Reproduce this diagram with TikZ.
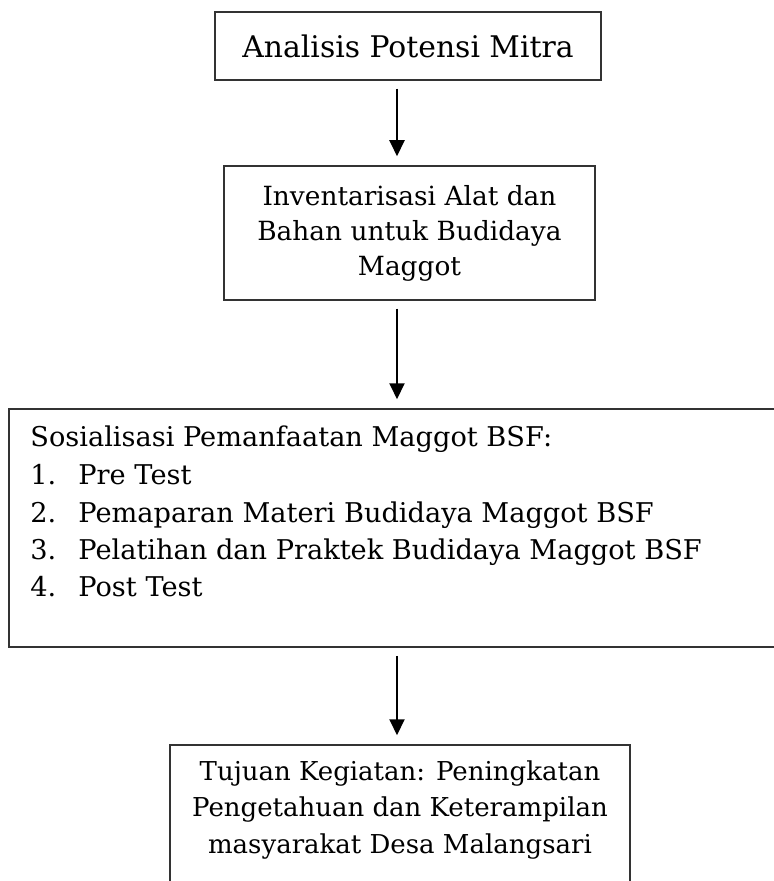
\documentclass[tikz,border=0pt]{standalone}
\usepackage{fontspec}
\setmainfont{DejaVu Serif}
\usetikzlibrary{arrows.meta}
\begin{document}
\begin{tikzpicture}[x=0.5pt,y=-0.5pt,
  frame/.style={draw=black!80, line width=0.75pt, inner sep=0pt},
  boxtext/.style={align=center, font=\fontsize{13.2}{17.5}\selectfont},
  txt/.style={anchor=base west, inner sep=0pt, font=\fontsize{13.6}{17}\selectfont},
  flow/.style={line width=1pt, -{Triangle[length=8pt,width=7.5pt]}, shorten <=4pt, shorten >=4.5pt}]
\useasboundingbox (0,0) rectangle (774,881);
\clip (0,0) rectangle (774,881);
% boxes
\node[frame, boxtext, font=\fontsize{14.9}{18}\selectfont, minimum width=193pt, minimum height=34pt] (b1) at (408,46) {Analisis Potensi Mitra};
\node[frame, boxtext, minimum width=185.5pt, minimum height=67pt] (b2) at (409.5,233) {Inventarisasi Alat dan\\Bahan untuk Budidaya\\Maggot};
\node[frame, minimum width=395.5pt, minimum height=119pt] (b3) at (404.5,528) {};
\node[frame, minimum width=230pt, minimum height=80pt] (b4) at (400,825) {};
% text of box 3
\node[txt] (s0) at (30,446) {Sosialisasi Pemanfaatan Maggot BSF:};
\node[txt] (n1) at (30,484) {1.};
\node[txt] (t1) at (78,484) {Pre Test};
\node[txt] (n2) at (30,522) {2.};
\node[txt] (t2) at (78,522) {Pemaparan Materi Budidaya Maggot BSF};
\node[txt] (n3) at (30,559) {3.};
\node[txt] (t3) at (78,559) {Pelatihan dan Praktek Budidaya Maggot BSF};
\node[txt] (n4) at (30,596) {4.};
\node[txt] (t4) at (78,596) {Post Test};
% text of box 4
\node[boxtext, font=\fontsize{13}{18.3}\selectfont] (g) at (400,810) {Tujuan Kegiatan: Peningkatan\\Pengetahuan dan Keterampilan\\masyarakat Desa Malangsari};
% arrows
\coordinate (ax) at (397,0);
\draw[flow] (b1.south -| ax) -- (b2.north -| ax);
\draw[flow] (b2.south -| ax) -- (b3.north -| ax);
\draw[flow] (b3.south -| ax) -- (b4.north -| ax);
\end{tikzpicture}
\end{document}
